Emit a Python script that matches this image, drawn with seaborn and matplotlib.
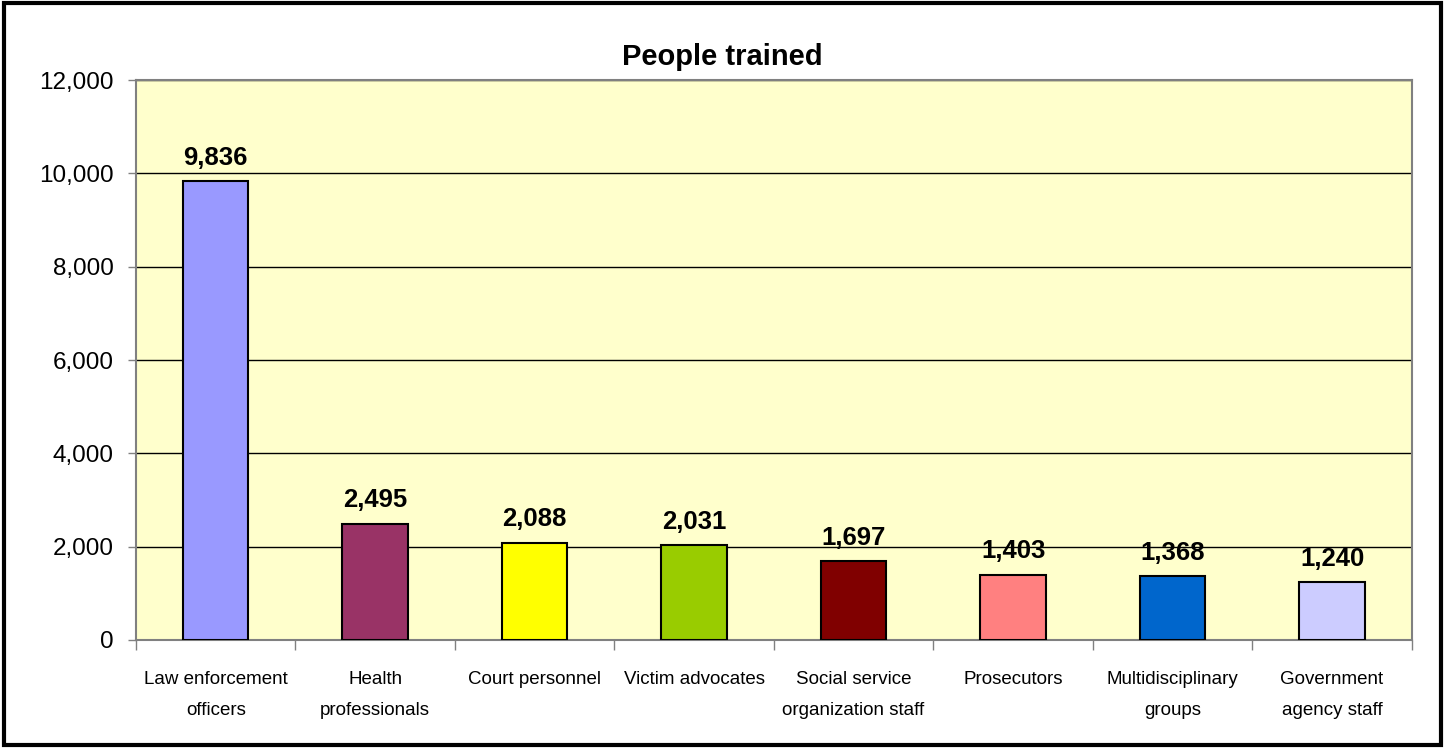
import matplotlib
matplotlib.use("Agg")
import matplotlib.pyplot as plt
import seaborn as sns
import pandas as pd
from matplotlib.patches import Rectangle
from matplotlib.ticker import FuncFormatter, FixedLocator

# Data
categories = ["Law enforcement\nofficers", "Health\nprofessionals", "Court personnel",
              "Victim advocates", "Social service\norganization staff", "Prosecutors",
              "Multidisciplinary\ngroups", "Government\nagency staff"]
people = [9836, 2495, 2088, 2031, 1697, 1403, 1368, 1240]
colors = ["#9999FF", "#993366", "#FFFF00", "#99CC00", "#800000", "#FF8080", "#0066CC", "#CCCCFF"]

df = pd.DataFrame({"Category": categories, "People": people})

sns.set_style("white")
plt.rcParams['font.family'] = ['Liberation Sans', 'DejaVu Sans']
plt.rcParams['text.color'] = 'black'
plt.rcParams['xtick.color'] = 'black'
plt.rcParams['ytick.color'] = 'black'

fig = plt.figure(figsize=(14.45, 7.48), dpi=100)
ax = fig.add_axes([0.0941, 0.1444, 0.8829, 0.7486])

sns.barplot(data=df, x="Category", y="People", hue="Category", palette=colors,
            saturation=1, legend=False, width=0.41, edgecolor="black", linewidth=1.5,
            ax=ax, zorder=3)

ax.set_facecolor("#FFFFCC")
ax.set_ylim(0, 12000)
ax.set_xlim(-0.5, len(categories) - 0.5)
ax.set_yticks(range(0, 12001, 2000))
ax.yaxis.set_major_formatter(FuncFormatter(lambda v, p: f"{int(v):,}"))
ax.grid(axis="y", color="black", linewidth=1, zorder=0)
ax.set_axisbelow(True)

for s in ["top", "right", "left", "bottom"]:
    ax.spines[s].set_color("#808080")
    ax.spines[s].set_linewidth(1.5)

ax.tick_params(axis="y", labelsize=17.5, length=6, width=1, color="#808080", left=True, pad=10,
               labelcolor="black")
ax.tick_params(axis="x", labelsize=13.5, length=0, pad=22, labelcolor="black")
ax.xaxis.set_minor_locator(FixedLocator([i - 0.5 for i in range(len(categories) + 1)]))
ax.tick_params(axis="x", which="minor", length=7, width=1, color="#808080", bottom=True)

for lab in ax.get_xticklabels():
    lab.set_linespacing(2.15)

ax.set_xlabel("")
ax.set_ylabel("")
fig.text(0.5, 0.924, "People trained", fontsize=21, fontweight="bold", color="black",
         ha="center", va="center")

for i, v in enumerate(people):
    ax.annotate(f"{v:,}", (i, v), xytext=(0, 8), textcoords="offset points",
                ha="center", va="bottom", fontsize=18.5, fontweight="bold", color="black")

fig.patches.append(Rectangle((0.003, 0.004), 0.994, 0.992, transform=fig.transFigure,
                             fill=False, edgecolor="black", linewidth=3))

fig.savefig("out.png", dpi=100)
